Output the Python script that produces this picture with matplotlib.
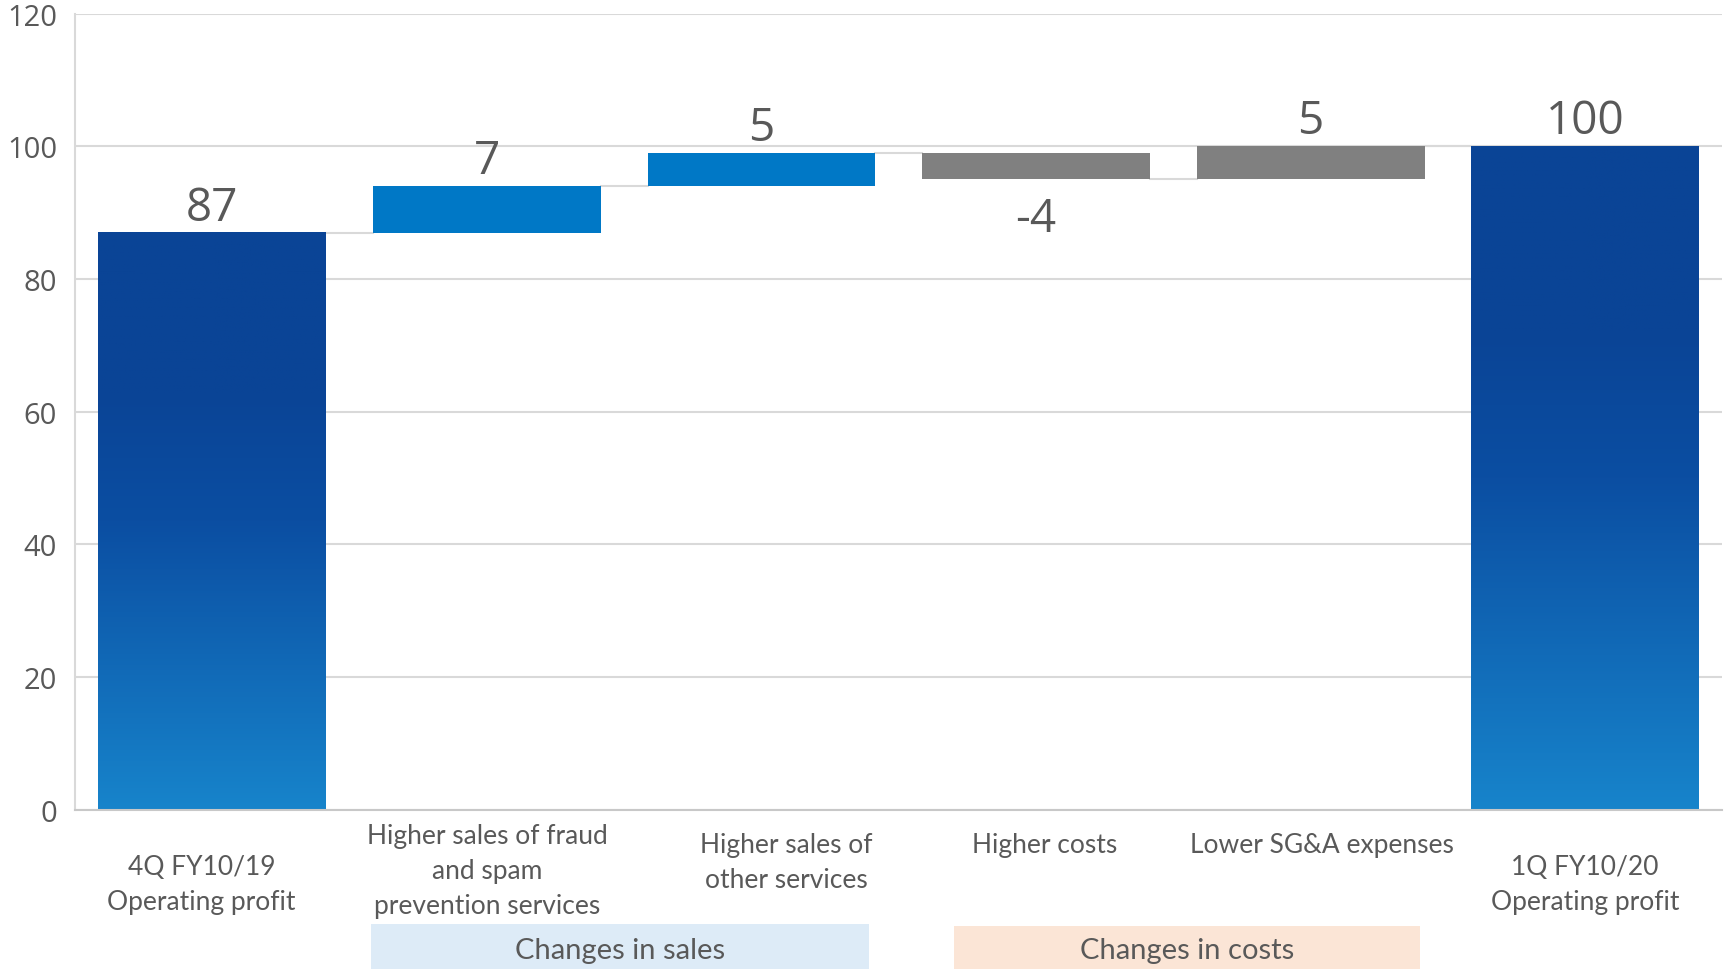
import numpy as np
import matplotlib.pyplot as plt
from matplotlib.colors import LinearSegmentedColormap
from matplotlib.transforms import blended_transform_factory

# waterfall: opening profit, changes, closing profit
categories = ["4Q FY10/19\nOperating profit",
              "Higher sales of fraud\nand spam\nprevention services",
              "Higher sales of\nother services",
              "Higher costs",
              "Lower SG&A expenses",
              "1Q FY10/20\nOperating profit"]
start_value = 87
changes = [7, 5, -4, 5]
end_value = 100
change_colors = ["#0078C6", "#0078C6", "#808080", "#808080"]
y_ticks = [0, 20, 40, 60, 80, 100, 120]

text_color = "#595959"
grid_color = "#D9D9D9"
label_font = "Lato"
num_font = "Open Sans"

fig = plt.figure(figsize=(17.25, 9.7), dpi=100)
ax = fig.add_axes([0.0435, 0.164, 0.955, 0.821])

x = np.arange(len(categories))
width = 0.83

ax.set_xlim(-0.5, 5.5)
ax.set_ylim(0, 120)
ax.set_yticks(y_ticks)
ax.set_yticklabels([str(v) for v in y_ticks], fontsize=21, color=text_color,
                   fontfamily=num_font)
ax.tick_params(axis="y", length=0, pad=13)
ax.set_xticks([])
ax.yaxis.grid(True, color=grid_color, lw=1.5)
ax.set_axisbelow(True)
for side in ["top", "right"]:
    ax.spines[side].set_visible(False)
ax.spines["left"].set_color(grid_color)
ax.spines["left"].set_linewidth(1.5)
ax.spines["bottom"].set_color("#C8C8C8")
ax.spines["bottom"].set_linewidth(1.5)

# gradient for the total bars: dark blue at top, lighter towards the base
grad_cmap = LinearSegmentedColormap.from_list(
    "totals", [(0.0, "#1784CB"), (0.5, "#0B4EA2"), (0.72, "#0A4496"), (1.0, "#0A4496")])
grad = np.linspace(0, 1, 256).reshape(-1, 1)


def total_bar(pos, value):
    ax.imshow(grad, cmap=grad_cmap, origin="lower", aspect="auto",
              extent=[pos - width / 2, pos + width / 2, 0, value], zorder=2)


total_bar(x[0], start_value)
total_bar(x[-1], end_value)

# floating change bars
level = start_value
levels = [start_value]
for i, (d, c) in enumerate(zip(changes, change_colors)):
    bottom = level if d >= 0 else level + d
    ax.bar(x[i + 1], abs(d), width, bottom=bottom, color=c, zorder=2)
    level += d
    levels.append(level)

# connectors between bars
for i, lv in enumerate(levels):
    ax.plot([x[i] + width / 2, x[i + 1] - width / 2], [lv, lv],
            color=grid_color, lw=1.5, zorder=1)

# value labels
label_kw = dict(ha="center", fontsize=33, color=text_color, fontfamily=num_font)
ax.text(x[0], start_value + 0.3, str(start_value), va="bottom", **label_kw)
level = start_value
for i, d in enumerate(changes):
    top = max(level, level + d)
    bot = min(level, level + d)
    if d >= 0:
        ax.text(x[i + 1], top + 0.3, str(d), va="bottom", **label_kw)
    else:
        ax.text(x[i + 1], bot - 2.5, str(d), va="top", **label_kw)
    level += d
ax.text(x[-1], end_value + 0.3, str(end_value), va="bottom", **label_kw)

# category labels under the axis
trans = blended_transform_factory(ax.transData, fig.transFigure)
label_y = [0.088, 0.102, 0.110, 0.128, 0.128, 0.088]
label_dx = [-0.04, 0.0, 0.09, 0.03, 0.04, 0.0]
for i, lab in enumerate(categories):
    ax.text(x[i] + label_dx[i], label_y[i], lab, transform=trans, ha="center",
            va="center", fontsize=19, color=text_color, fontfamily=label_font,
            linespacing=1.5, clip_on=False)

# group boxes
groups = [("Changes in sales", 0.577, 2.39, 0.046, "#DDEBF7"),
          ("Changes in costs", 2.70, 4.40, 0.044, "#FBE5D6")]
for name, x0, x1, ytop, fc in groups:
    rect = plt.Rectangle((x0, 0), x1 - x0, ytop, transform=trans,
                         facecolor=fc, edgecolor="none", clip_on=False)
    ax.add_patch(rect)
    ax.text((x0 + x1) / 2, 0.02, name, transform=trans, ha="center",
            va="center", fontsize=21, color=text_color, fontfamily=label_font,
            clip_on=False)

fig.savefig("out.png", dpi=100)
